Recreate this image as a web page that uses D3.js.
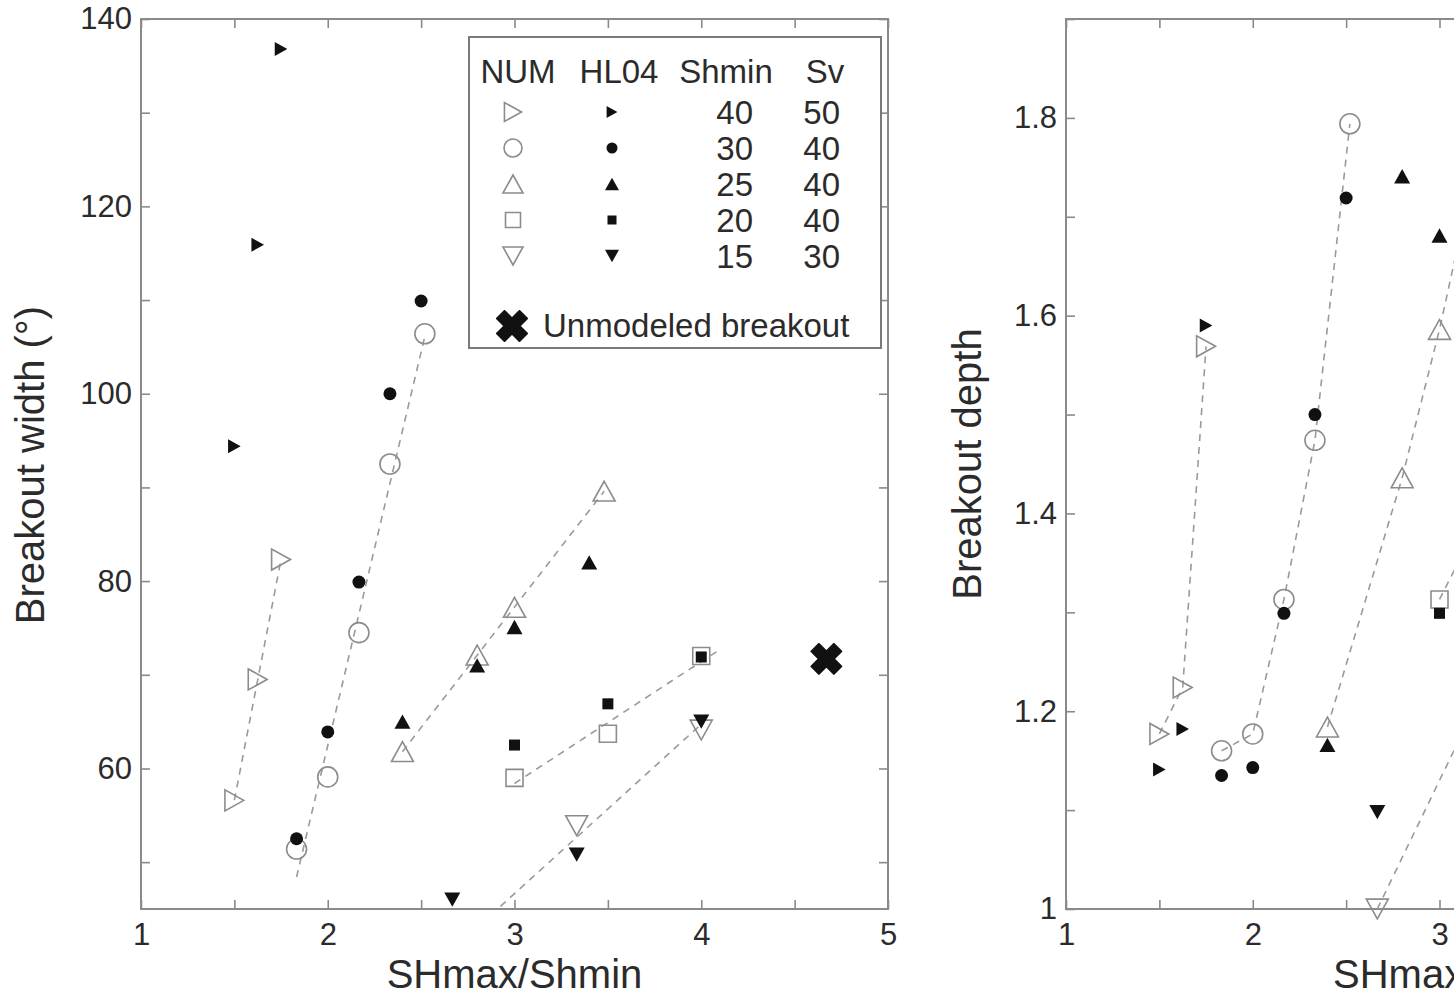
<!DOCTYPE html>
<html>
<head>
<meta charset="utf-8">
<script src="https://cdn.jsdelivr.net/npm/d3@7"></script>
<style>
  body { margin: 0; background: #fff; }
  text { font-family: "Liberation Sans", Arial, sans-serif; fill: #2b2b2b; }
</style>
</head>
<body>
<svg id="chart" width="1454" height="996"></svg>
<script>
// ---- data: SHmax/Shmin ratio (x) against breakout width (deg) ----
const num40X = [1.5, 1.625, 1.75];
const num40W = [56.6, 69.5, 82.3];
const hl40X = [1.5, 1.625, 1.75];
const hl40W = [94.4, 115.9, 136.8];

const num30X = [1.833, 2.0, 2.167, 2.333, 2.52];
const num30W = [51.4, 59.1, 74.5, 92.5, 106.4];
const hl30X = [1.833, 2.0, 2.167, 2.333, 2.5];
const hl30W = [52.5, 63.9, 79.9, 100.0, 109.9];

const num25X = [2.4, 2.8, 3.0, 3.48];
const num25W = [61.8, 72.1, 77.2, 89.6];
const hl25X = [2.4, 2.8, 3.0, 3.4];
const hl25W = [65.0, 71.0, 75.1, 82.0];

const num20X = [3.0, 3.5, 4.0];
const num20W = [59.0, 63.7, 72.0];
const hl20X = [3.0, 3.5, 4.0];
const hl20W = [62.5, 66.9, 71.9];

const num15X = [2.667, 3.333, 4.0];
const num15W = [40.0, 53.9, 64.1];
const hl15X = [2.667, 3.333, 4.0];
const hl15W = [46.0, 50.8, 65.0];

// x span of the dashed trend line of each NUM group
const fit40 = [1.5, 1.75];
const fit30 = [1.833, 2.52];
const fit25 = [2.4, 3.48];
const fit20 = [3.0, 4.1];
const fit15 = [2.667, 4.0];

const unmodeledX = [4.67];
const unmodeledW = [71.7];

// ---- data: breakout depth (right panel, cut at the page edge) ----
const dNum40X = [1.5, 1.625, 1.75];
const dNum40 = [1.177, 1.224, 1.569];
const dHl40X = [1.5, 1.625, 1.75];
const dHl40 = [1.141, 1.182, 1.590];

const dNum30X = [1.833, 2.0, 2.167, 2.333, 2.52];
const dNum30 = [1.160, 1.177, 1.313, 1.474, 1.794];
const dHl30X = [1.833, 2.0, 2.167, 2.333, 2.5];
const dHl30 = [1.135, 1.143, 1.299, 1.500, 1.719];

const dNum25X = [2.4, 2.8, 3.0, 3.48];
const dNum25 = [1.184, 1.436, 1.586, 2.0];
const dHl25X = [2.4, 2.8, 3.0];
const dHl25 = [1.166, 1.741, 1.681];

const dNum20X = [3.0, 3.5];
const dNum20 = [1.313, 1.5];
const dHl20X = [3.0];
const dHl20 = [1.299];

const dNum15X = [2.667, 3.333];
const dNum15 = [1.0, 1.26];
const dHl15X = [2.667];
const dHl15 = [1.098];

// legend columns
const shminValues = [40, 30, 25, 20, 15];
const svValues = [50, 40, 40, 40, 30];

// axis ticks
const ratioTicks = [1, 1.5, 2, 2.5, 3, 3.5, 4, 4.5, 5];
const ratioLabels = [1, 2, 3, 4, 5];
const widthTicks = [50, 60, 70, 80, 90, 100, 110, 120, 130, 140];
const widthLabels = [60, 80, 100, 120, 140];
const depthTicks = [1, 1.1, 1.2, 1.3, 1.4, 1.5, 1.6, 1.7, 1.8, 1.9];
const depthLabels = [1, 1.2, 1.4, 1.6, 1.8];

// ---- marker shapes (centred on their bounding box) ----
function triangle(dir) {
  return {
    draw(ctx, size) {
      const a = Math.sqrt(size) / 2, h = a * 0.9;
      if (dir === "right") { ctx.moveTo(h, 0); ctx.lineTo(-h, -a); ctx.lineTo(-h, a); }
      else if (dir === "up") { ctx.moveTo(0, -h); ctx.lineTo(a, h); ctx.lineTo(-a, h); }
      else { ctx.moveTo(0, h); ctx.lineTo(a, -h); ctx.lineTo(-a, -h); }
      ctx.closePath();
    }
  };
}
const circle = {
  draw(ctx, size) {
    const r = Math.sqrt(size) / 2;
    ctx.moveTo(r, 0);
    ctx.arc(0, 0, r, 0, 2 * Math.PI);
  }
};
const square = {
  draw(ctx, size) {
    const a = Math.sqrt(size) / 2;
    ctx.rect(-a, -a, 2 * a, 2 * a);
  }
};

const groups = [
  { shape: triangle("right"), numSize: 21, hlSize: 14,
    numX: num40X, numW: num40W, hlX: hl40X, hlW: hl40W, fit: fit40,
    dNumX: dNum40X, dNum: dNum40, dHlX: dHl40X, dHl: dHl40 },
  { shape: circle, numSize: 20, hlSize: 13,
    numX: num30X, numW: num30W, hlX: hl30X, hlW: hl30W, fit: fit30,
    dNumX: dNum30X, dNum: dNum30, dHlX: dHl30X, dHl: dHl30 },
  { shape: triangle("up"), numSize: 22, hlSize: 16,
    numX: num25X, numW: num25W, hlX: hl25X, hlW: hl25W, fit: fit25,
    dNumX: dNum25X, dNum: dNum25, dHlX: dHl25X, dHl: dHl25 },
  { shape: square, numSize: 17, hlSize: 11,
    numX: num20X, numW: num20W, hlX: hl20X, hlW: hl20W, fit: fit20,
    dNumX: dNum20X, dNum: dNum20, dHlX: dHl20X, dHl: dHl20 },
  { shape: triangle("down"), numSize: 22, hlSize: 16,
    numX: num15X, numW: num15W, hlX: hl15X, hlW: hl15W, fit: fit15,
    dNumX: dNum15X, dNum: dNum15, dHlX: dHl15X, dHl: dHl15 }
];

const axisGrey = "#8a8a8a";
const numGrey = "#8c8c8c";
const lineGrey = "#9a9a9a";

const svg = d3.select("#chart");

const xW = d3.scaleLinear().domain([1, 5]).range([141, 888]);
const yW = d3.scaleLinear().domain([45, 140]).range([909, 19]);
const xD = d3.scaleLinear().domain([1, 5]).range([1066, 1813]);
const yD = d3.scaleLinear().domain([1, 1.9]).range([909, 19]);

// least squares line over the given x span
function fitLine(xs, ys, span) {
  const mx = d3.mean(xs), my = d3.mean(ys);
  const b = d3.sum(xs, (x, i) => (x - mx) * (ys[i] - my)) / d3.sum(xs, x => (x - mx) * (x - mx));
  return span.map(x => [x, my + b * (x - mx)]);
}

function drawFrame(id, x, y, xTicks, xLabels, yTicks, yLabels, yFormat) {
  const [x0, x1] = x.range();
  const [y1, y0] = y.range();
  const g = svg.append("g");

  const styleAxis = sel => {
    sel.select(".domain").remove();
    sel.selectAll(".tick line").attr("stroke", axisGrey).attr("stroke-width", 1.6);
    sel.selectAll(".tick text").style("font-size", "31px").style("font-family", "Liberation Sans, Arial, sans-serif").attr("fill", "#2b2b2b");
  };

  g.append("g").attr("transform", `translate(0,${y1})`)
    .call(d3.axisBottom(x).tickValues(xTicks).tickSizeInner(-9).tickSizeOuter(0).tickPadding(14)
      .tickFormat(d => xLabels.includes(d) ? d : ""))
    .call(styleAxis);
  g.append("g").attr("transform", `translate(0,${y0})`)
    .call(d3.axisTop(x).tickValues(xTicks).tickSizeInner(-9).tickSizeOuter(0).tickFormat(""))
    .call(styleAxis);
  g.append("g").attr("transform", `translate(${x0},0)`)
    .call(d3.axisLeft(y).tickValues(yTicks).tickSizeInner(-9).tickSizeOuter(0).tickPadding(9)
      .tickFormat(d => yLabels.includes(d) ? yFormat(d) : ""))
    .call(styleAxis);
  g.append("g").attr("transform", `translate(${x1},0)`)
    .call(d3.axisRight(y).tickValues(yTicks).tickSizeInner(-9).tickSizeOuter(0).tickFormat(""))
    .call(styleAxis);

  g.append("rect")
    .attr("x", x0).attr("y", y0).attr("width", x1 - x0).attr("height", y1 - y0)
    .attr("fill", "none").attr("stroke", axisGrey).attr("stroke-width", 2);

  svg.append("clipPath").attr("id", id)
    .append("rect").attr("x", x0).attr("y", y0).attr("width", x1 - x0).attr("height", y1 - y0);
}

function drawMarkers(layer, xs, ys, x, y, shape, size, filled) {
  const [ylo, yhi] = y.domain();
  const pts = xs.map((v, i) => [v, ys[i]]).filter(p => p[1] >= ylo - 0.001 && p[1] <= yhi);
  layer.selectAll(null).data(pts).enter().append("path")
    .attr("transform", d => `translate(${x(d[0])},${y(d[1])})`)
    .attr("d", d3.symbol().type(shape).size(size * size))
    .attr("fill", filled ? "#111" : "none")
    .attr("stroke", filled ? "none" : numGrey)
    .attr("stroke-width", filled ? 0 : 1.6);
}

// ---------- left panel: breakout width ----------
drawFrame("clipW", xW, yW, ratioTicks, ratioLabels, widthTicks, widthLabels, d => d);

const lineW = d3.line().x(d => xW(d[0])).y(d => yW(d[1]));
const linesW = svg.append("g").attr("clip-path", "url(#clipW)");
groups.forEach(gr => {
  linesW.append("path")
    .attr("d", lineW(fitLine(gr.numX, gr.numW, gr.fit)))
    .attr("fill", "none").attr("stroke", lineGrey).attr("stroke-width", 1.6)
    .attr("stroke-dasharray", "7,6");
});
const marksW = svg.append("g");
groups.forEach(gr => drawMarkers(marksW, gr.numX, gr.numW, xW, yW, gr.shape, gr.numSize, false));
groups.forEach(gr => drawMarkers(marksW, gr.hlX, gr.hlW, xW, yW, gr.shape, gr.hlSize, true));

const xCross = d3.symbol().type(d3.symbolCross).size(560);
marksW.selectAll(null).data(unmodeledX).enter().append("path")
  .attr("transform", (d, i) => `translate(${xW(d)},${yW(unmodeledW[i])}) rotate(45)`)
  .attr("d", xCross)
  .attr("fill", "#111").attr("stroke", "#111").attr("stroke-width", 2).attr("stroke-linejoin", "round");

// ---------- right panel: breakout depth ----------
drawFrame("clipD", xD, yD, ratioTicks, ratioLabels, depthTicks, depthLabels, d => d === 1 ? "1" : d.toFixed(1));

const lineD = d3.line().x(d => xD(d[0])).y(d => yD(d[1]));
const linesD = svg.append("g").attr("clip-path", "url(#clipD)");
groups.forEach(gr => {
  linesD.append("path")
    .attr("d", lineD(gr.dNumX.map((v, i) => [v, gr.dNum[i]])))
    .attr("fill", "none").attr("stroke", lineGrey).attr("stroke-width", 1.6)
    .attr("stroke-dasharray", "7,6");
});
const marksD = svg.append("g");
groups.forEach(gr => drawMarkers(marksD, gr.dNumX, gr.dNum, xD, yD, gr.shape, gr.numSize, false));
groups.forEach(gr => drawMarkers(marksD, gr.dHlX, gr.dHl, xD, yD, gr.shape, gr.hlSize, true));

// ---------- axis titles ----------
svg.append("text").attr("x", (xW.range()[0] + xW.range()[1]) / 2).attr("y", 988)
  .attr("text-anchor", "middle").style("font-size", "40px").text("SHmax/Shmin");
// the right panel's title sits a little right of its centre in the original
svg.append("text").attr("x", 1333).attr("y", 988)
  .style("font-size", "40px").text("SHmax/Shmin");
svg.append("text").attr("transform", "translate(44,465) rotate(-90)")
  .attr("text-anchor", "middle").style("font-size", "40px").text("Breakout width (°)");
svg.append("text").attr("transform", "translate(981,464) rotate(-90)")
  .attr("text-anchor", "middle").style("font-size", "40px").text("Breakout depth");

// ---------- legend ----------
const leg = svg.append("g");
leg.append("rect").attr("x", 469).attr("y", 37).attr("width", 412).attr("height", 311)
  .attr("fill", "#fff").attr("stroke", "#7a7a7a").attr("stroke-width", 2);

const heads = [["NUM", 518], ["HL04", 619], ["Shmin", 726], ["Sv", 825]];
leg.selectAll(null).data(heads).enter().append("text")
  .attr("x", d => d[1]).attr("y", 83).attr("text-anchor", "middle")
  .style("font-size", "33px").text(d => d[0]);

const rowY = i => 112 + i * 36;
groups.forEach((gr, i) => {
  leg.append("path").attr("transform", `translate(513,${rowY(i)})`)
    .attr("d", d3.symbol().type(gr.shape).size((gr.numSize - 2) ** 2))
    .attr("fill", "none").attr("stroke", numGrey).attr("stroke-width", 1.6);
  leg.append("path").attr("transform", `translate(612,${rowY(i)})`)
    .attr("d", d3.symbol().type(gr.shape).size((gr.hlSize - 2) ** 2))
    .attr("fill", "#111");
});
leg.selectAll(null).data(shminValues).enter().append("text")
  .attr("x", 753).attr("y", (d, i) => rowY(i) + 11.5).attr("text-anchor", "end")
  .style("font-size", "33px").text(d => d);
leg.selectAll(null).data(svValues).enter().append("text")
  .attr("x", 840).attr("y", (d, i) => rowY(i) + 11.5).attr("text-anchor", "end")
  .style("font-size", "33px").text(d => d);

leg.append("path").attr("transform", "translate(512,326) rotate(45)")
  .attr("d", xCross)
  .attr("fill", "#111").attr("stroke", "#111").attr("stroke-width", 2).attr("stroke-linejoin", "round");
leg.append("text").attr("x", 543).attr("y", 337)
  .style("font-size", "33px").text("Unmodeled breakout");
</script>
</body>
</html>
